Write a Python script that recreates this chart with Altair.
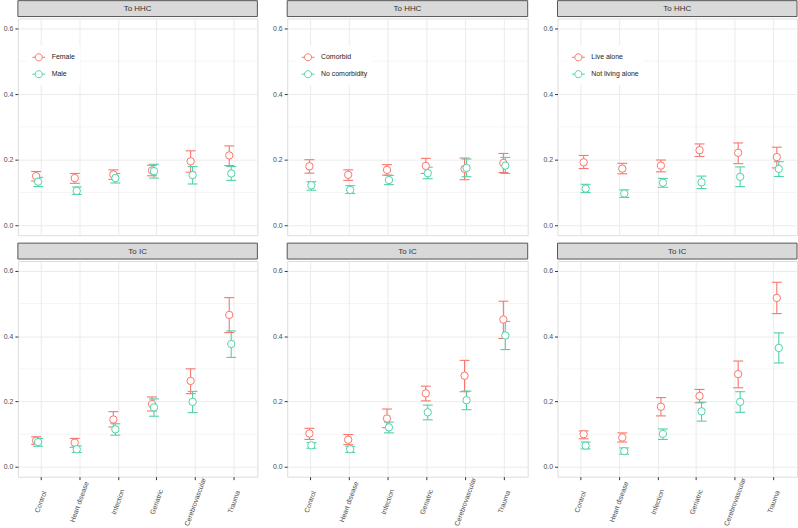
import altair as alt
import pandas as pd

FONT = "Liberation Sans"
RED = "#F8766D"
TEAL = "#50D2A8"

categories = ["Control", "Heart disease", "Infection", "Geriatric", "Cerebrovascular", "Trauma"]
outcomes = ["To HHC", "To IC"]
groups = [["Female", "Male"], ["Comorbid", "No comorbidity"], ["Live alone", "Not living alone"]]

# ---- Column 1: sex ----
hhc_female_est = [0.150, 0.144, 0.155, 0.167, 0.195, 0.213]
hhc_female_lo = [0.135, 0.128, 0.140, 0.151, 0.162, 0.182]
hhc_female_hi = [0.164, 0.158, 0.169, 0.183, 0.227, 0.242]
hhc_male_est = [0.133, 0.105, 0.144, 0.165, 0.153, 0.158]
hhc_male_lo = [0.118, 0.094, 0.129, 0.144, 0.126, 0.137]
hhc_male_hi = [0.146, 0.117, 0.158, 0.186, 0.179, 0.179]
ic_female_est = [0.080, 0.074, 0.145, 0.192, 0.263, 0.465]
ic_female_lo = [0.069, 0.060, 0.122, 0.171, 0.224, 0.411]
ic_female_hi = [0.092, 0.087, 0.169, 0.214, 0.300, 0.518]
ic_male_est = [0.076, 0.054, 0.115, 0.182, 0.199, 0.376]
ic_male_lo = [0.063, 0.044, 0.097, 0.155, 0.166, 0.335]
ic_male_hi = [0.087, 0.064, 0.132, 0.208, 0.231, 0.416]

# ---- Column 2: comorbidity ----
hhc_com_est = [0.180, 0.154, 0.169, 0.181, 0.172, 0.190]
hhc_com_lo = [0.159, 0.137, 0.153, 0.158, 0.139, 0.161]
hhc_com_hi = [0.200, 0.169, 0.185, 0.204, 0.205, 0.219]
hhc_nocom_est = [0.122, 0.108, 0.138, 0.159, 0.175, 0.182]
hhc_nocom_lo = [0.107, 0.097, 0.124, 0.142, 0.148, 0.158]
hhc_nocom_hi = [0.133, 0.121, 0.152, 0.177, 0.202, 0.207]
ic_com_est = [0.102, 0.083, 0.148, 0.225, 0.279, 0.451]
ic_com_lo = [0.084, 0.068, 0.120, 0.202, 0.230, 0.393]
ic_com_hi = [0.118, 0.099, 0.177, 0.247, 0.326, 0.507]
ic_nocom_est = [0.066, 0.054, 0.121, 0.167, 0.204, 0.402]
ic_nocom_lo = [0.057, 0.044, 0.104, 0.144, 0.175, 0.359]
ic_nocom_hi = [0.074, 0.063, 0.137, 0.189, 0.232, 0.445]

# ---- Column 3: living arrangement ----
hhc_alone_est = [0.192, 0.173, 0.182, 0.229, 0.221, 0.208]
hhc_alone_lo = [0.173, 0.157, 0.163, 0.210, 0.188, 0.175]
hhc_alone_hi = [0.213, 0.189, 0.199, 0.248, 0.251, 0.238]
hhc_notalone_est = [0.112, 0.097, 0.130, 0.131, 0.148, 0.172]
hhc_notalone_lo = [0.100, 0.085, 0.116, 0.112, 0.118, 0.149]
hhc_notalone_hi = [0.125, 0.108, 0.143, 0.150, 0.178, 0.194]
ic_alone_est = [0.100, 0.090, 0.184, 0.217, 0.284, 0.517]
ic_alone_lo = [0.086, 0.076, 0.156, 0.196, 0.242, 0.469]
ic_alone_hi = [0.110, 0.104, 0.212, 0.237, 0.324, 0.565]
ic_notalone_est = [0.065, 0.048, 0.101, 0.170, 0.199, 0.364]
ic_notalone_lo = [0.055, 0.039, 0.084, 0.140, 0.167, 0.318]
ic_notalone_hi = [0.076, 0.058, 0.116, 0.198, 0.230, 0.410]

minor_breaks = [0.1, 0.3, 0.5]
major_breaks = [0.0, 0.2, 0.4, 0.6]

series = [
    {
        "To HHC": [(hhc_female_est, hhc_female_lo, hhc_female_hi), (hhc_male_est, hhc_male_lo, hhc_male_hi)],
        "To IC": [(ic_female_est, ic_female_lo, ic_female_hi), (ic_male_est, ic_male_lo, ic_male_hi)],
    },
    {
        "To HHC": [(hhc_com_est, hhc_com_lo, hhc_com_hi), (hhc_nocom_est, hhc_nocom_lo, hhc_nocom_hi)],
        "To IC": [(ic_com_est, ic_com_lo, ic_com_hi), (ic_nocom_est, ic_nocom_lo, ic_nocom_hi)],
    },
    {
        "To HHC": [(hhc_alone_est, hhc_alone_lo, hhc_alone_hi), (hhc_notalone_est, hhc_notalone_lo, hhc_notalone_hi)],
        "To IC": [(ic_alone_est, ic_alone_lo, ic_alone_hi), (ic_notalone_est, ic_notalone_lo, ic_notalone_hi)],
    },
]

SYMBOL = ("M -1 0 L -0.55 0 M 0.55 0 L 1 0 "
          "M -0.55 0 A 0.55 0.55 0 1 1 0.55 0 A 0.55 0.55 0 1 1 -0.55 0 Z")
CAP = "M -1 0 L 1 0"

col_widths = [241, 242, 241]
panel_heights = {"To HHC": 218, "To IC": 217}
STRIP_H = 16
GAP = 7


def make_df(grp, data):
    rows = []
    for g, (est, lo, hi) in zip(grp, data):
        for c, e, l, h in zip(categories, est, lo, hi):
            rows.append({"cat": c, "grp": g, "est": e, "lo": l, "hi": h})
    return pd.DataFrame(rows)


def strip(label, width, gap):
    d = pd.DataFrame({"label": [label]})
    base = alt.Chart(d).properties(width=width, height=STRIP_H + gap,
                                   view=alt.ViewConfig(stroke=None))
    rect = base.mark_rect(fill="#D9D9D9", stroke="#555555", strokeWidth=1).encode(
        x=alt.value(0), x2=alt.value(width), y=alt.value(gap), y2=alt.value(gap + STRIP_H))
    txt = base.mark_text(fontSize=8, fontWeight="normal", color="#333333", font=FONT).encode(
        x=alt.value(width / 2), y=alt.value(gap + STRIP_H / 2 + 0.5), text="label:N")
    return rect + txt


def panel(grp, data, width, height, bottom):
    df = make_df(grp, data)
    step = width / 6.2
    yscale = alt.Scale(domain=[-0.03, 0.63], nice=False, zero=False)
    xscale = alt.Scale(domain=categories, paddingInner=0, paddingOuter=0.1)
    offscale = alt.Scale(type="point", domain=grp, range=[step / 2 - 5, step / 2 + 5], padding=0)
    if bottom:
        xaxis = alt.Axis(title=None, grid=True, gridColor="#EBEBEB", bandPosition=0.5,
                         domain=False, ticks=True, tickColor="#333333", tickSize=3,
                         labelAngle=-70, labelAlign="center", labelBaseline="middle",
                         labelPadding=22, labelFontSize=7, labelColor="#4D4D4D",
                         labelFont=FONT, labelOverlap=False)
    else:
        xaxis = alt.Axis(title=None, grid=True, gridColor="#EBEBEB", bandPosition=0.5,
                         domain=False, ticks=False, labels=False)
    yaxis = alt.Axis(title=None, values=major_breaks, format=".1f", grid=True,
                     gridColor="#EBEBEB", domain=False, tickColor="#333333", tickSize=3,
                     labelFontSize=7, labelColor="#4D4D4D", labelFont=FONT, labelPadding=2)
    if bottom:
        legend = None
    else:
        legend = alt.Legend(title=None, orient="none", legendX=9, legendY=27, padding=5,
                            fillColor="white", symbolType=SYMBOL, symbolSize=169,
                            symbolStrokeWidth=1, symbolFillColor="white",
                            labelFontSize=7, labelFont=FONT, labelColor="#1A1A1A",
                            rowPadding=4, labelOffset=6)
    cscale = alt.Scale(domain=grp, range=[RED, TEAL])
    color = alt.Color("grp:N", scale=cscale, legend=legend)
    x = alt.X("cat:N", sort=categories, scale=xscale, axis=xaxis)
    xo = alt.XOffset("grp:N", scale=offscale)

    minor = alt.Chart(pd.DataFrame({"v": minor_breaks})).mark_rule(
        color="#EBEBEB", strokeWidth=0.5).encode(y=alt.Y("v:Q", scale=yscale, axis=yaxis))

    base = alt.Chart(df)
    bars = base.mark_rule(strokeWidth=1.1).encode(
        x=x, xOffset=xo, y=alt.Y("lo:Q", scale=yscale, axis=yaxis), y2="hi:Q", color=color)
    cap_lo = base.mark_point(shape=CAP, size=100, filled=False, strokeWidth=1.1, opacity=1).encode(
        x=x, xOffset=xo, y=alt.Y("lo:Q", scale=yscale, axis=yaxis), color=color)
    cap_hi = base.mark_point(shape=CAP, size=100, filled=False, strokeWidth=1.1, opacity=1).encode(
        x=x, xOffset=xo, y=alt.Y("hi:Q", scale=yscale, axis=yaxis), color=color)
    pts = base.mark_point(shape="circle", size=55, filled=False, fill="white",
                          fillOpacity=1, strokeWidth=1, opacity=1).encode(
        x=x, xOffset=xo, y=alt.Y("est:Q", scale=yscale, axis=yaxis), color=color)
    return alt.layer(minor, bars, cap_lo, cap_hi, pts).properties(width=width, height=height)


columns = []
for ci in range(3):
    w = col_widths[ci]
    items = []
    for oi, out in enumerate(outcomes):
        items.append(strip(out, w, 0 if oi == 0 else GAP))
        items.append(panel(groups[ci], series[ci][out], w, panel_heights[out], bottom=(oi == 1)))
    col = alt.vconcat(*items, spacing=0).resolve_scale(color="independent")
    columns.append(col)

chart = alt.hconcat(*columns, spacing=13).resolve_scale(
    color="independent"
).properties(
    padding={"left": 2, "top": -2, "right": 0, "bottom": 0},
    background="white",
).configure_view(
    stroke="#555555", strokeWidth=1
).configure(font=FONT)

chart.save("out.html", embed_options={"renderer": "svg", "actions": False})
